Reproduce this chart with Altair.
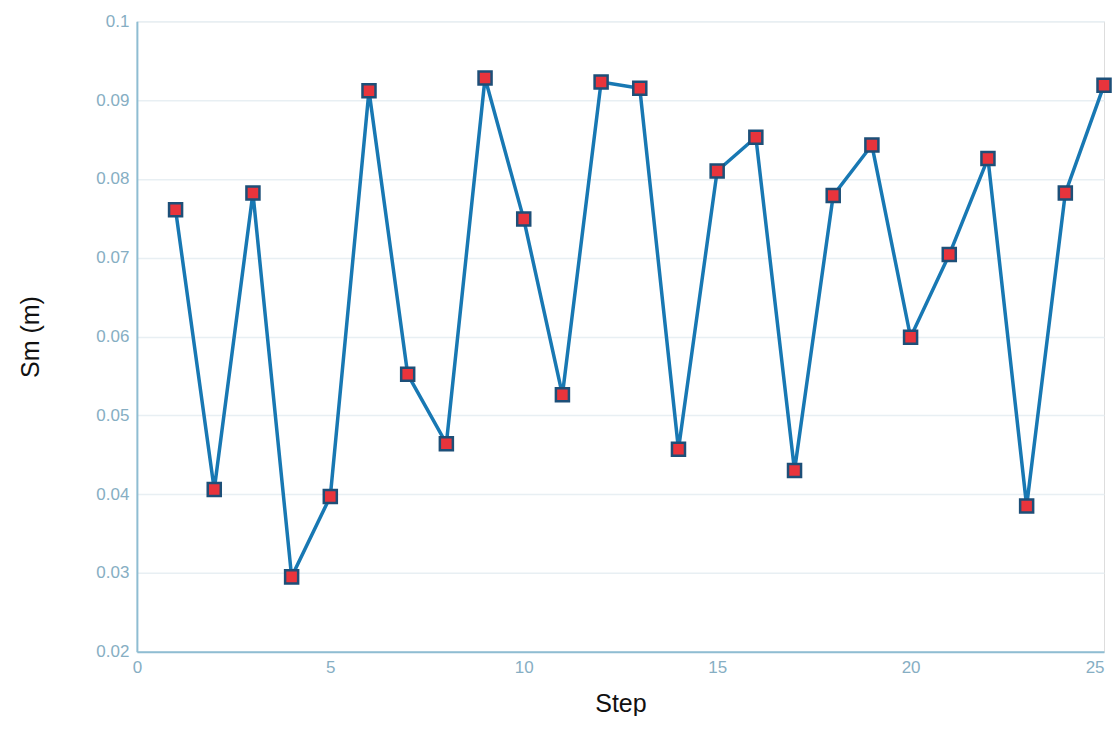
import altair as alt
import pandas as pd

steps = list(range(1, 26))
sm = [0.0761, 0.0406, 0.0782, 0.0295, 0.0397, 0.0912, 0.0552, 0.0464, 0.0928, 0.0749,
      0.0526, 0.0923, 0.0915, 0.0457, 0.0810, 0.0853, 0.0430, 0.0779, 0.0843, 0.0599,
      0.0704, 0.0826, 0.0385, 0.0782, 0.0919]

df = pd.DataFrame({"Step": steps, "Sm": sm})

axis_common = dict(
    labelColor="#86aec3", labelFontSize=17, labelFont="Liberation Sans", labelFlush=False,
    domainColor="#8fbdd2", domainWidth=2, tickColor="#8fbdd2", tickSize=0,
    gridColor="#e8eff3", gridWidth=1.5,
    titleColor="#111111", titleFontSize=25, titleFont="Liberation Sans", titleFontWeight="normal",
)

x = alt.X("Step:Q", scale=alt.Scale(domain=[0, 25], nice=False),
          axis=alt.Axis(values=[0, 5, 10, 15, 20, 25], grid=False, labelPadding=8,
                        labelAlign=alt.expr("datum.value == 25 ? 'right' : 'center'"),
                        titlePadding=16, title="Step", **axis_common))
y = alt.Y("Sm:Q", scale=alt.Scale(domain=[0.02, 0.1], nice=False),
          axis=alt.Axis(values=[0.02, 0.03, 0.04, 0.05, 0.06, 0.07, 0.08, 0.09, 0.1],
                        format=".2~f", grid=True, labelPadding=8, titlePadding=52,
                        title="Sm (m)", **axis_common))

line = alt.Chart(df).mark_line(color="#1878b3", strokeWidth=3.5).encode(x=x, y=y)
pts = alt.Chart(df).mark_point(shape="square", filled=True, fill="#e8343c",
                               stroke="#1d4f78", strokeWidth=2.5, size=170, opacity=1).encode(x=x, y=y)

chart = (line + pts).properties(
    width=968, height=631,
    autosize=alt.AutoSizeParams(type="none"),
    padding={"left": 129, "top": 13, "right": 8, "bottom": 64},
).configure_view(stroke="#8fbdd2", strokeWidth=2).configure(background="white")

chart.save("out.html", embed_options={"renderer": "svg", "actions": False})
